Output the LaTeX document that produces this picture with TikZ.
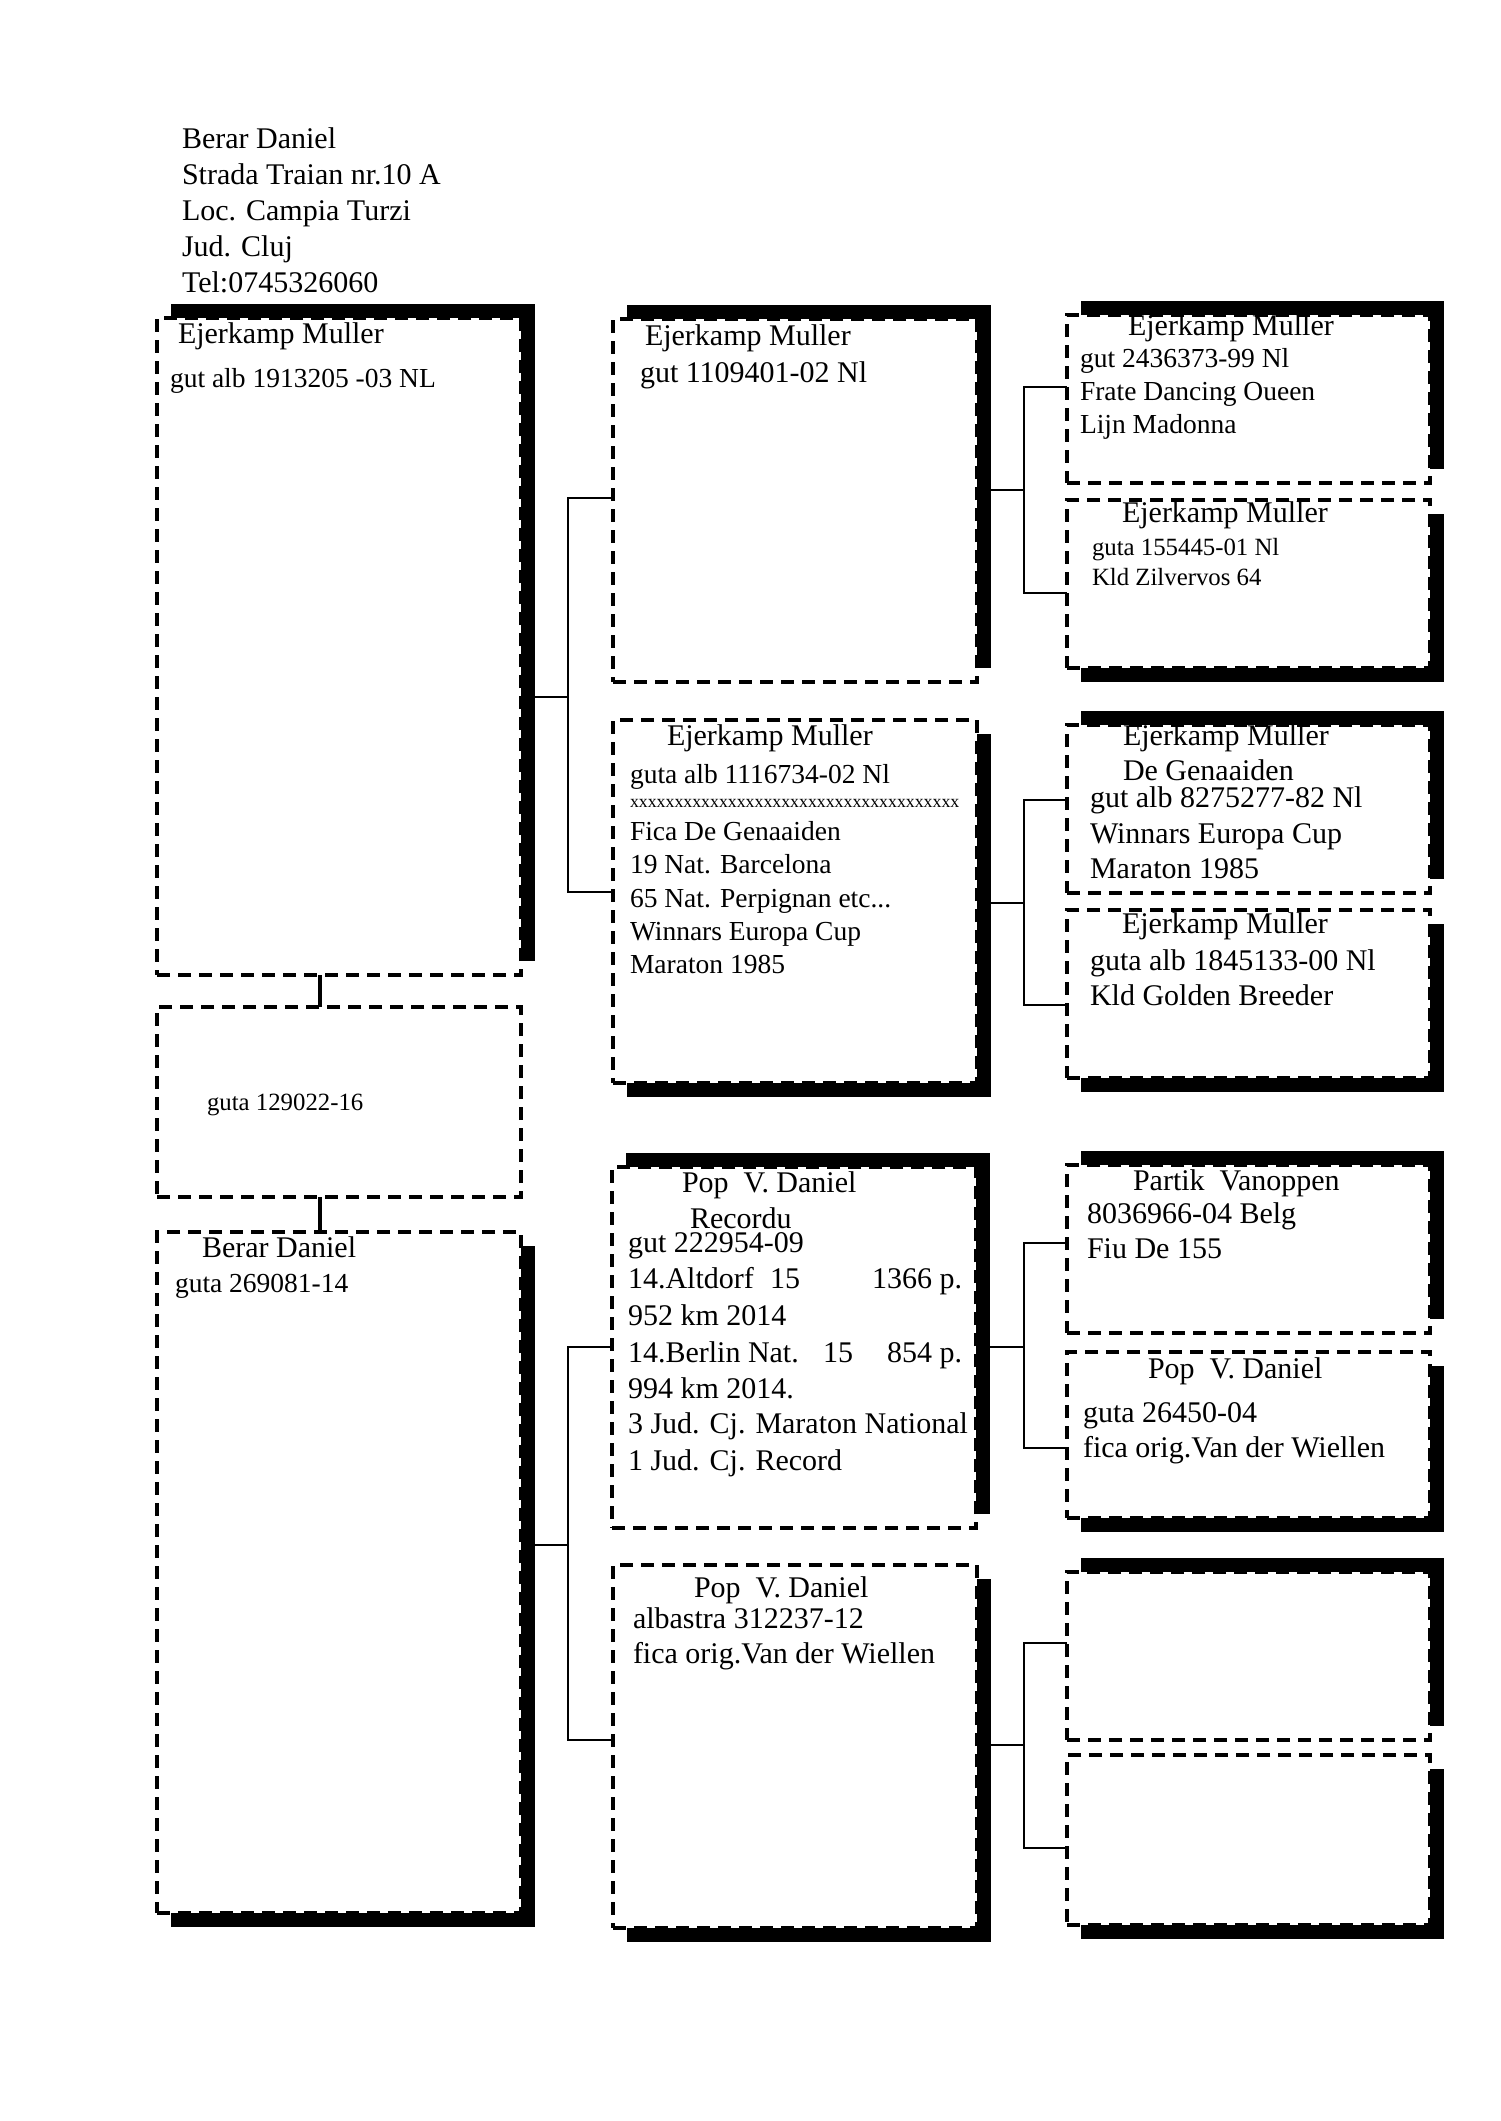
\documentclass[tikz,border=0pt]{standalone}
\usepackage{fontspec}
\setmainfont{Liberation Serif}
\usetikzlibrary{shadows,fit,calc}
\begin{document}
\begin{tikzpicture}[x=0.5pt,y=-0.5pt,
  box/.style={draw, line width=2pt, dash pattern=on 6.5pt off 4pt, fill=white, inner sep=0pt, outer sep=0pt},
  shUR/.style={drop shadow={shadow xshift=7pt, shadow yshift=7pt, fill=black, opacity=1}},
  shDR/.style={drop shadow={shadow xshift=7pt, shadow yshift=-7pt, fill=black, opacity=1}},
  txt/.style={inner sep=0pt, outer sep=0pt, anchor=base west},
  txtr/.style={inner sep=0pt, outer sep=0pt, anchor=base east},
  big/.style={font=\fontsize{15}{18}\selectfont},
  med/.style={font=\fontsize{13.75}{16.5}\selectfont},
  sml/.style={font=\fontsize{12.4}{15}\selectfont},
  tny/.style={font=\fontsize{8.9}{10}\selectfont},
  conn/.style={line width=1.3pt},
  vconn/.style={line width=2pt}]
\fill[white] (0,0) rectangle (1500,2121);
\useasboundingbox (0,0) rectangle (1500,2121);

% header
\node[txt,big] (h1) at (182,148) {Berar Daniel};
\node[txt,big] (h2) at (182,184) {Strada Traian nr.10 A};
\node[txt,big] (h3) at (182,220) {Loc. Campia Turzi};
\node[txt,big] (h4) at (182,256) {Jud. Cluj};
\node[txt,big] (h5) at (182,292) {Tel:0745326060};

% boxes
\node[box,shUR,fit={(157,318) (521,975)}] (L1) {};
\node[box,fit={(157,1007) (521,1197)}] (L2) {};
\node[box,shDR,fit={(157,1232) (521,1913)}] (L3) {};

\node[box,shUR,fit={(613,319) (977,682)}] (M1) {};
\node[box,shDR,fit={(613,720) (977,1083)}] (M2) {};
\node[box,shUR,fit={(612,1167) (976,1528)}] (M3) {};
\node[box,shDR,fit={(613,1565) (977,1928)}] (M4) {};

\node[box,shUR,fit={(1067,315) (1430,483)}] (R1) {};
\node[box,shDR,fit={(1067,500) (1430,668)}] (R2) {};
\node[box,shUR,fit={(1067,725) (1430,893)}] (R3) {};
\node[box,shDR,fit={(1067,910) (1430,1078)}] (R4) {};
\node[box,shUR,fit={(1067,1165) (1430,1333)}] (R5) {};
\node[box,shDR,fit={(1067,1352) (1430,1518)}] (R6) {};
\node[box,shUR,fit={(1067,1572) (1430,1740)}] (R7) {};
\node[box,shDR,fit={(1067,1755) (1430,1925)}] (R8) {};

% connectors
\draw[vconn] ($(L1.south west)+(163,0)$) -- ($(L2.north west)+(163,0)$);
\draw[vconn] ($(L2.south west)+(163,0)$) -- ($(L3.north west)+(163,0)$);

\coordinate (a0) at (568,697);  \coordinate (a1) at (568,498);  \coordinate (a2) at (568,892);
\draw[conn] (L1.east |- a0) -- (a0);
\draw[conn] (M1.west |- a1) -- (a1) -- (a2) -- (M2.west |- a2);

\coordinate (b0) at (568,1545); \coordinate (b1) at (568,1347); \coordinate (b2) at (568,1740);
\draw[conn] (L3.east |- b0) -- (b0);
\draw[conn] (M3.west |- b1) -- (b1) -- (b2) -- (M4.west |- b2);

\coordinate (c0) at (1024,490); \coordinate (c1) at (1024,387); \coordinate (c2) at (1024,593);
\draw[conn] (M1.east |- c0) -- (c0);
\draw[conn] (R1.west |- c1) -- (c1) -- (c2) -- (R2.west |- c2);

\coordinate (d0) at (1024,903); \coordinate (d1) at (1024,800); \coordinate (d2) at (1024,1005);
\draw[conn] (M2.east |- d0) -- (d0);
\draw[conn] (R3.west |- d1) -- (d1) -- (d2) -- (R4.west |- d2);

\coordinate (e0) at (1024,1347); \coordinate (e1) at (1024,1243); \coordinate (e2) at (1024,1448);
\draw[conn] (M3.east |- e0) -- (e0);
\draw[conn] (R5.west |- e1) -- (e1) -- (e2) -- (R6.west |- e2);

\coordinate (f0) at (1024,1745); \coordinate (f1) at (1024,1643); \coordinate (f2) at (1024,1848);
\draw[conn] (M4.east |- f0) -- (f0);
\draw[conn] (R7.west |- f1) -- (f1) -- (f2) -- (R8.west |- f2);

% left column texts
\node[txt,big] (l1a) at (178,343) {Ejerkamp Muller};
\node[txt,med] (l1b) at (170,387) {gut alb 1913205 -03 NL};
\node[txt,sml] (l2a) at (207,1110) {guta 129022-16};
\node[txt,big] (l3a) at (202,1257) {Berar Daniel};
\node[txt,med] (l3b) at (175,1292) {guta 269081-14};

% middle column texts
\node[txt,big] (m1a) at (645,345) {Ejerkamp Muller};
\node[txt,big] (m1b) at (640,382) {gut 1109401-02 Nl};

\node[txt,big] (m2a) at (667,745) {Ejerkamp Muller};
\node[txt,med] (m2b) at (630,783) {guta alb 1116734-02 Nl};
\node[txt,tny] (m2c) at (630,807) {xxxxxxxxxxxxxxxxxxxxxxxxxxxxxxxxxxxxx};
\node[txt,med] (m2d) at (630,840) {Fica De Genaaiden};
\node[txt,med] (m2e) at (630,873) {19 Nat. Barcelona};
\node[txt,med] (m2f) at (630,907) {65 Nat. Perpignan etc...};
\node[txt,med] (m2g) at (630,940) {Winnars Europa Cup};
\node[txt,med] (m2h) at (630,973) {Maraton 1985};

\node[txt,big] (m3a) at (682,1192) {Pop\ \ V. Daniel};
\node[txt,big] (m3b) at (690,1228) {Recordu};
\node[txt,big] (m3c) at (628,1252) {gut 222954-09};
\node[txt,big] (m3d) at (628,1288) {14.Altdorf};
\node[txt,big] (m3d2) at (770,1288) {15};
\node[txtr,big] (m3d3) at (962,1288) {1366 p.};
\node[txt,big] (m3e) at (628,1325) {952 km 2014};
\node[txt,big] (m3f) at (628,1362) {14.Berlin Nat.};
\node[txt,big] (m3f2) at (823,1362) {15};
\node[txtr,big] (m3f3) at (962,1362) {854 p.};
\node[txt,big] (m3g) at (628,1398) {994 km 2014.};
\node[txt,big] (m3h) at (628,1433) {3 Jud. Cj. Maraton National};
\node[txt,big] (m3i) at (628,1470) {1 Jud. Cj. Record};

\node[txt,big] (m4a) at (694,1597) {Pop\ \ V. Daniel};
\node[txt,big] (m4b) at (633,1628) {albastra 312237-12};
\node[txt,big] (m4c) at (633,1663) {fica orig.Van der Wiellen};

% right column texts
\node[txt,big] (r1a) at (1128,335) {Ejerkamp Muller};
\node[txt,med] (r1b) at (1080,367) {gut 2436373-99 Nl};
\node[txt,med] (r1c) at (1080,400) {Frate Dancing Oueen};
\node[txt,med] (r1d) at (1080,433) {Lijn Madonna};

\node[txt,big] (r2a) at (1122,522) {Ejerkamp Muller};
\node[txt,sml] (r2b) at (1092,555) {guta 155445-01 Nl};
\node[txt,sml] (r2c) at (1092,585) {Kld Zilvervos 64};

\node[txt,big] (r3a) at (1123,745) {Ejerkamp Muller};
\node[txt,big] (r3b) at (1123,780) {De Genaaiden};
\node[txt,big] (r3c) at (1090,807) {gut alb 8275277-82 Nl};
\node[txt,big] (r3d) at (1090,843) {Winnars Europa Cup};
\node[txt,big] (r3e) at (1090,878) {Maraton 1985};

\node[txt,big] (r4a) at (1122,933) {Ejerkamp Muller};
\node[txt,big] (r4b) at (1090,970) {guta alb 1845133-00 Nl};
\node[txt,big] (r4c) at (1090,1005) {Kld Golden Breeder};

\node[txt,big] (r5a) at (1133,1190) {Partik\ \ Vanoppen};
\node[txt,big] (r5b) at (1087,1223) {8036966-04 Belg};
\node[txt,big] (r5c) at (1087,1258) {Fiu De 155};

\node[txt,big] (r6a) at (1148,1378) {Pop\ \ V. Daniel};
\node[txt,big] (r6b) at (1083,1422) {guta 26450-04};
\node[txt,big] (r6c) at (1083,1457) {fica orig.Van der Wiellen};
\end{tikzpicture}
\end{document}
